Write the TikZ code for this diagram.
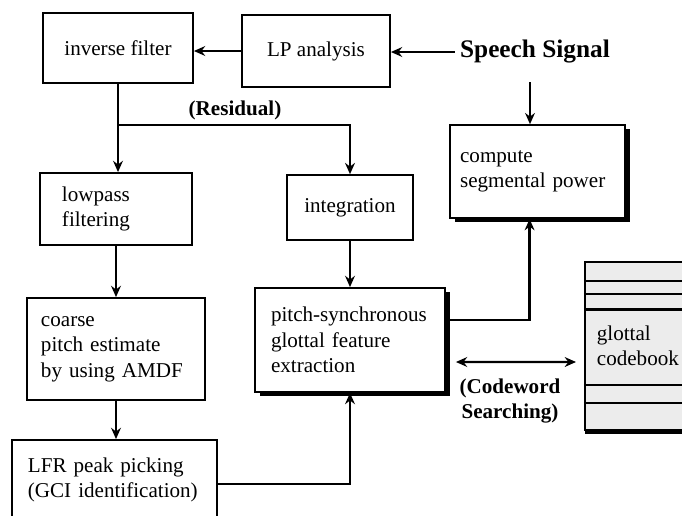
\documentclass[tikz,border=0pt]{standalone}
\usepackage{fontspec}
\setmainfont{Liberation Serif}
\usetikzlibrary{arrows.meta,shadows}

\begin{document}
\begin{tikzpicture}[line width=1.2pt, >={Stealth[length=8pt,width=7pt]}, font=\fontsize{15}{18}\selectfont]
    \useasboundingbox (0,0) rectangle (17.05,-12.9);
    \tikzset{
      blk/.style={draw, rectangle, fill=white, line width=1.3pt},
      lblk/.style={blk, align=left},
      shad/.style={drop shadow={shadow xshift=0.13cm, shadow yshift=-0.1cm, fill=black, opacity=1}}
    }

    % Caixas de cima
    \node[blk, minimum width=3.75cm, minimum height=1.75cm] (inv) at (2.95,-1.2) {inverse filter};
    \node[blk, minimum width=3.7cm, minimum height=1.8cm] (lp) at (7.9,-1.275) {LP analysis};
    \node[draw = none, font=\fontsize{18}{21}\selectfont\bfseries] (speech) at (13.375,-1.3) {Speech Signal};
    \node[lblk, shad, text width=3.875cm, inner xsep=0.25cm, minimum height=2.325cm] (power) at (13.44,-4.29) {compute\\segmental power};

    % Coluna da esquerda
    \node[lblk, text width=2.7cm, inner xsep=0.55cm, minimum height=1.8cm] (low) at (2.9,-5.225) {lowpass\\filtering};
    \node[lblk, text width=3.75cm, inner xsep=0.35cm, minimum height=2.55cm] (coarse) at (2.9,-8.725) {coarse\\pitch estimate\\by using AMDF};
    \node[lblk, text width=4.325cm, inner xsep=0.4cm, minimum height=2.0cm] (lfr) at (2.86,-12.0) {LFR peak picking\\(GCI identification)};

    % Coluna do meio
    \node[blk, minimum width=3.15cm, minimum height=1.625cm] (integ) at (8.75,-5.19) {integration};
    \node[lblk, shad, text width=3.95cm, inner xsep=0.4cm, minimum height=2.6cm] (sync) at (8.75,-8.5) {pitch-synchronous\\glottal feature\\extraction};

    % Codebook
    \node[lblk, fill=gray!15, text width=2.275cm, inner xsep=0.3cm, minimum height=4.2cm,
          drop shadow={shadow xshift=0cm, shadow yshift=-0.1cm, fill=black, opacity=1}] (book) at (16.06,-8.65) {glottal\\codebook};
    \draw[line width=1.1pt] ([yshift=-0.5cm]book.north west) -- ([yshift=-0.5cm]book.north east);
    \draw[line width=1.1pt] ([yshift=-0.82cm]book.north west) -- ([yshift=-0.82cm]book.north east);
    \draw[line width=2pt] ([yshift=-1.22cm]book.north west) -- ([yshift=-1.22cm]book.north east);
    \draw[line width=1.1pt] ([yshift=1.15cm]book.south west) -- ([yshift=1.15cm]book.south east);
    \draw[line width=1.1pt] ([yshift=0.7cm]book.south west) -- ([yshift=0.7cm]book.south east);

    % Setas de cima
    \draw[->] (speech.west) -- (speech.west -| lp.east);
    \draw[->] (lp.west) -- (lp.west -| inv.east);
    \coordinate (sigdown) at (13.25,-2.05);
    \draw[->] (sigdown) -- (sigdown |- power.north);

    % Residuo
    \coordinate (res) at (2.95,-3.125);
    \draw[->, line width=2pt] (inv.south) -- (inv.south |- low.north);
    \draw[->, line width=2pt] (res) -| (integ.north);
    \node[draw = none, font=\fontsize{15}{18}\selectfont\bfseries] (reslabel) at (5.875,-2.75) {(Residual)};

    % Setas da esquerda
    \draw[->] (low.south) -- (low.south |- coarse.north);
    \draw[->] (coarse.south) -- (coarse.south |- lfr.north);
    \draw[->] ([yshift=-0.1cm]lfr.east) -| (sync.south);

    % Setas do meio
    \draw[->] (integ.south) -- (sync.north);
    \draw[->, line width=1.6pt] ([yshift=0.5cm]sync.east) -| ([xshift=-0.2cm]power.south);
    \draw[<->, line width=1.6pt] ([shift={(0.25cm,-0.55cm)}]sync.east) -- ([shift={(-0.2cm,-0.4cm)}]book.west);
    \node[draw = none, align=center, font=\fontsize{15}{18}\selectfont\bfseries] (cwlabel) at (12.75,-10.03) {(Codeword\\Searching)};
  \end{tikzpicture}
\end{document}
